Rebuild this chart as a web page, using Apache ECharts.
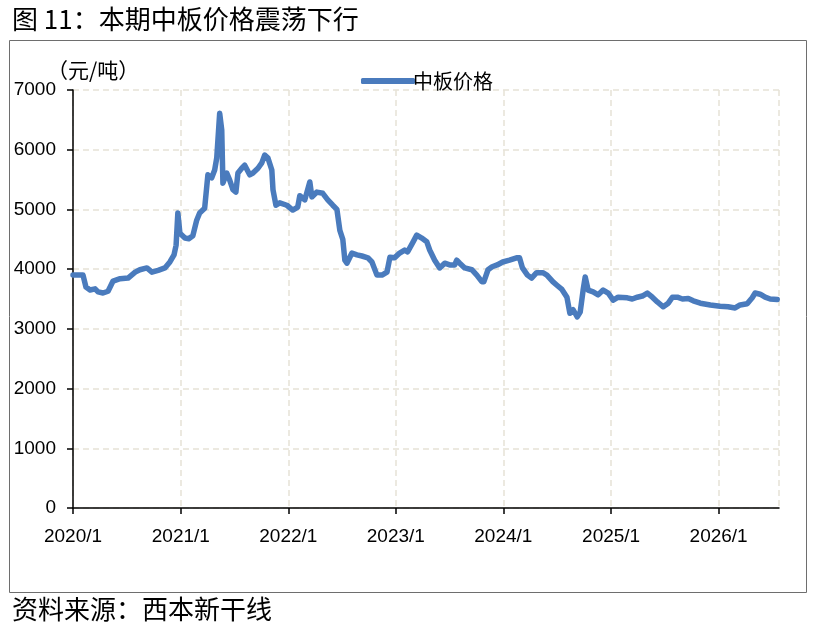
<!DOCTYPE html>
<html>
<head>
<meta charset="utf-8">
<script src="https://cdn.jsdelivr.net/npm/echarts@6/dist/echarts.min.js"></script>
<style>
  html, body { margin: 0; padding: 0; background: #fff; }
  #chart { width: 818px; height: 629px; }
</style>
</head>
<body>
<div id="chart"></div>
<script>
// 标题和来源
var titleText = '图 11：本期中板价格震荡下行';
var sourceText = '资料来源：西本新干线';
var seriesName = '中板价格';
var unitName = '（元/吨）';

// 日期
var dates = [
  '2020-01-01', '2020-02-04', '2020-02-14', '2020-02-28', '2020-03-16', '2020-03-26',
  '2020-04-12', '2020-04-29', '2020-05-16', '2020-06-09', '2020-07-06', '2020-07-30',
  '2020-08-15', '2020-09-08', '2020-09-25', '2020-10-16', '2020-11-08', '2020-11-25',
  '2020-12-09', '2020-12-16', '2020-12-22', '2020-12-29', '2021-01-15', '2021-01-28',
  '2021-02-11', '2021-02-24', '2021-03-06', '2021-03-23', '2021-04-03', '2021-04-16',
  '2021-04-26', '2021-05-03', '2021-05-13', '2021-05-20', '2021-05-24', '2021-06-06',
  '2021-06-16', '2021-06-27', '2021-07-07', '2021-07-14', '2021-07-27', '2021-08-06',
  '2021-08-23', '2021-09-03', '2021-09-20', '2021-10-03', '2021-10-13', '2021-10-24',
  '2021-11-06', '2021-11-10', '2021-11-20', '2021-12-03', '2021-12-27', '2022-01-16',
  '2022-02-02', '2022-02-09', '2022-02-26', '2022-03-15', '2022-03-22', '2022-04-08',
  '2022-04-28', '2022-05-15', '2022-06-01', '2022-06-15', '2022-06-25', '2022-07-05',
  '2022-07-12', '2022-07-19', '2022-08-05', '2022-08-22', '2022-09-08', '2022-09-28',
  '2022-10-12', '2022-10-29', '2022-11-15', '2022-12-02', '2022-12-12', '2022-12-28',
  '2023-01-14', '2023-01-31', '2023-02-10', '2023-02-27', '2023-03-13', '2023-03-30',
  '2023-04-16', '2023-04-26', '2023-05-13', '2023-05-30', '2023-06-16', '2023-07-03',
  '2023-07-20', '2023-07-27', '2023-08-06', '2023-08-23', '2023-09-16', '2023-10-03',
  '2023-10-20', '2023-10-27', '2023-11-10', '2023-11-24', '2023-12-11', '2023-12-30',
  '2024-01-22', '2024-02-15', '2024-02-25', '2024-03-06', '2024-03-23', '2024-04-06',
  '2024-04-23', '2024-05-14', '2024-05-28', '2024-06-17', '2024-07-01', '2024-07-18',
  '2024-08-04', '2024-08-14', '2024-08-25', '2024-09-08', '2024-09-18', '2024-09-28',
  '2024-10-05', '2024-10-15', '2024-11-01', '2024-11-18', '2024-12-05', '2024-12-22',
  '2025-01-08', '2025-01-25', '2025-02-25', '2025-03-14', '2025-03-31', '2025-04-17',
  '2025-05-04', '2025-05-21', '2025-06-07', '2025-06-27', '2025-07-14', '2025-07-28',
  '2025-08-14', '2025-08-31', '2025-09-20', '2025-10-07', '2025-10-31', '2025-12-04',
  '2026-01-06', '2026-02-02', '2026-02-26', '2026-03-15', '2026-04-08', '2026-04-25',
  '2026-05-05', '2026-05-22', '2026-06-08', '2026-06-25', '2026-07-19'
];

// 中板价格（元/吨）
var prices = [
  3900, 3900, 3700, 3650, 3670, 3620,
  3600, 3630, 3800, 3840, 3850, 3950,
  3990, 4020, 3950, 3980, 4020, 4120,
  4240, 4400, 4940, 4600, 4520, 4510,
  4560, 4820, 4940, 5020, 5580, 5530,
  5660, 5860, 6610, 6330, 5440, 5610,
  5490, 5330, 5290, 5610, 5690, 5740,
  5580, 5610, 5690, 5780, 5910, 5860,
  5660, 5330, 5070, 5110, 5070, 4990,
  5040, 5230, 5160, 5460, 5210, 5290,
  5270, 5160, 5070, 5000, 4650, 4500,
  4150, 4100, 4270, 4240, 4220, 4190,
  4120, 3900, 3900, 3950, 4200, 4190,
  4270, 4320, 4290, 4440, 4570, 4520,
  4460, 4320, 4150, 4020, 4100, 4070,
  4070, 4150, 4100, 4020, 3990, 3900,
  3790, 3790, 3990, 4040, 4070, 4120,
  4150, 4190, 4190, 4020, 3900, 3850,
  3940, 3940, 3900, 3790, 3730, 3660,
  3530, 3260, 3320, 3200, 3280, 3650,
  3870, 3650, 3620, 3570, 3650, 3600,
  3480, 3530, 3520, 3500, 3530, 3550,
  3600, 3530, 3450, 3370, 3430, 3530,
  3530, 3500, 3510, 3470, 3430, 3400,
  3380, 3370, 3350, 3400, 3420, 3520,
  3600, 3580, 3530, 3500, 3490
];

// 坐标轴范围
var xMin = '2020-01-01';
var xMax = '2026-07-25';
var yMin = 0;
var yMax = 7000;
var yStep = 1000;

var numFont = 'Liberation Sans, Arial, sans-serif';
var cjkFont = 'Noto Sans CJK SC, sans-serif';
var lineColor = '#4a7bbd';
var gridColor = '#e6e2d6';
var YEAR = 365 * 24 * 3600 * 1000;

var myChart = echarts.init(document.getElementById('chart'));

var seriesData = dates.map(function (d, i) {
  return [d, prices[i]];
});

var option = {
  backgroundColor: '#fff',
  animation: false,
  title: [{
    text: titleText,
    left: 7,
    top: 1,
    textStyle: { fontFamily: cjkFont, fontSize: 26, fontWeight: 'normal', color: '#000' }
  }, {
    text: sourceText,
    left: 7,
    top: 591,
    textStyle: { fontFamily: cjkFont, fontSize: 26, fontWeight: 'normal', color: '#000' }
  }],
  // 外框
  graphic: [{
    type: 'rect',
    shape: { x: 9.5, y: 40.5, width: 797, height: 552 },
    style: { fill: 'none', stroke: '#6e6e6e', lineWidth: 1 },
    silent: true
  }],
  legend: {
    left: 356,
    top: 66,
    icon: 'roundRect',
    itemWidth: 54,
    itemHeight: 6,
    itemGap: 4,
    textStyle: { fontFamily: cjkFont, fontSize: 20, color: '#000', padding: [0, 0, 0, -7] },
    data: [seriesName]
  },
  grid: {
    left: 73,
    right: 39,
    top: 90,
    bottom: 121,
    containLabel: false
  },
  xAxis: {
    type: 'time',
    min: xMin,
    max: xMax,
    minInterval: YEAR,
    maxInterval: YEAR,
    axisLine: { lineStyle: { color: '#000', width: 1.5 } },
    axisTick: { show: true, length: 6, lineStyle: { color: '#000', width: 1.5 } },
    axisLabel: {
      fontFamily: numFont,
      fontSize: 19,
      color: '#000',
      margin: 19,
      showMaxLabel: false,
      formatter: function (v) {
        return new Date(v).getFullYear() + '/1';
      }
    },
    splitLine: { show: true, lineStyle: { color: gridColor, width: 1.5, type: [6, 4] } }
  },
  yAxis: {
    type: 'value',
    min: yMin,
    max: yMax,
    interval: yStep,
    name: unitName,
    nameLocation: 'end',
    nameGap: 8,
    nameTextStyle: { fontFamily: cjkFont, fontSize: 21, color: '#000', align: 'left', padding: [0, 0, 0, -26] },
    axisLine: { show: true, lineStyle: { color: '#000', width: 1.5 } },
    axisTick: { show: true, length: 6, lineStyle: { color: '#000', width: 1.5 } },
    axisLabel: {
      fontFamily: numFont,
      fontSize: 19,
      color: '#000',
      margin: 17,
      formatter: function (v) {
        return String(v);
      }
    },
    splitLine: { show: true, lineStyle: { color: gridColor, width: 1.5, type: [6, 4] } }
  },
  series: [{
    name: seriesName,
    type: 'line',
    symbol: 'none',
    showSymbol: false,
    data: seriesData,
    lineStyle: { color: lineColor, width: 5.5, join: 'round', cap: 'round' },
    itemStyle: { color: lineColor }
  }]
};

myChart.setOption(option);
window.addEventListener('resize', function () {
  myChart.resize();
});
</script>
</body>
</html>
